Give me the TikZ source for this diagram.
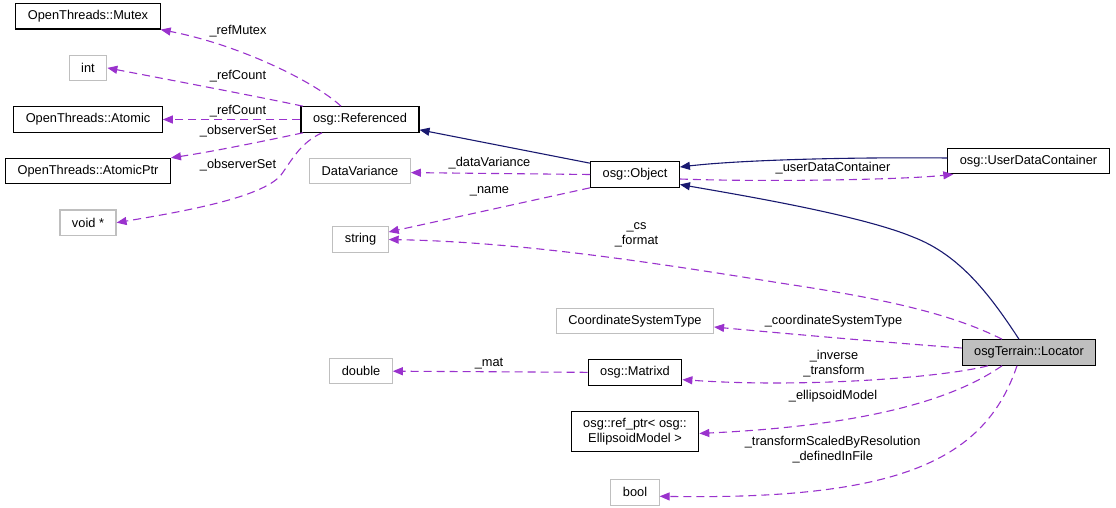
\documentclass[tikz,border=0pt]{standalone}
\usepackage{fontspec}
\setmainfont{Liberation Sans}
\usetikzlibrary{positioning, arrows.meta}

\definecolor{usecol}{RGB}{154,50,205}
\definecolor{inhcol}{RGB}{25,25,112}
\definecolor{grey75}{RGB}{191,191,191}

\begin{document}
\begin{tikzpicture}[x=1pt, y=-1pt, node distance=25pt,
    font=\fontsize{12.8}{15}\selectfont,
    classbox/.style={draw, line width=1.1pt, minimum height=25.5pt, inner xsep=12pt, inner ysep=2pt},
    typebox/.style={classbox, draw=grey75},
    mainbox/.style={classbox, fill=grey75},
    uses/.style={usecol, line width=1.1pt, dash pattern=on 8pt off 5pt, -{Triangle[length=10pt, width=8pt]}},
    inherits/.style={inhcol, line width=1.1pt, -{Triangle[length=10pt, width=8pt]}},
    lbl/.style={inner sep=0pt, align=center}]
    \useasboundingbox (0,0) rectangle (1116,508);

    \node[classbox]                      (Atomic)      at (88,119.5)   {OpenThreads::Atomic};
    \node[typebox, above=of Atomic]      (Int)                         {int};
    \node[classbox, above=of Int]        (Mutex)                       {OpenThreads::Mutex};
    \node[classbox, below=of Atomic]     (Atomic Ptr)                  {OpenThreads::AtomicPtr};
    \node[typebox, below=of Atomic Ptr]  (Void Ptr)                    {void *};

    \node[classbox]                      (Referenced)  at (360,119.5)  {osg::Referenced};
    \node[typebox, below=of Referenced]  (Data Variance)               {DataVariance};
    \node[typebox]                       (String)      at (360.5,239.5) {string};
    \node[typebox]                       (Double)      at (361,371)    {double};

    \node[classbox]                      (Object)      at (635,174.5)  {osg::Object};
    \node[typebox]                       (Coord Type)  at (635,321)    {CoordinateSystemType};
    \node[classbox, below=of Coord Type] (Matrixd)                     {osg::Matrixd};
    \node[classbox, below=of Matrixd, minimum height=40pt, align=center]
                                         (Ellipsoid)                   {osg::ref\_ptr< osg::\\EllipsoidModel >};
    \node[typebox, below=27pt of Ellipsoid] (Bool)                     {bool};

    \node[classbox]                      (User Data)   at (1028.5,161) {osg::UserDataContainer};
    \node[mainbox]                       (Locator)     at (1029,352.5) {osgTerrain::Locator};

    % members of osg::Referenced
    \draw[uses] ([xshift=-19pt]Referenced.north) .. controls (315,82) and (240,45) .. (Mutex.south east);
    \draw[uses] ([xshift=-57pt]Referenced.north) .. controls (260,97) and (160,78) .. (Int.east);
    \draw[uses] (Referenced) -- (Atomic);
    \draw[uses] ([xshift=-57pt]Referenced.south) .. controls (260,142) and (210,152) .. (Atomic Ptr.north east);
    \draw[uses] ([xshift=-38pt]Referenced.south) .. controls (300,143) and (292,160) .. (281,175)
        .. controls (262,198) and (180,212) .. (Void Ptr.east);
    \node[lbl] (lbl ref mutex)    at (238,31)    {\_refMutex};
    \node[lbl] (lbl ref count a)  at (238,76.5)  {\_refCount};
    \node[lbl] (lbl ref count b)  at (238,111.5) {\_refCount};
    \node[lbl] (lbl observer a)   at (238,131.5) {\_observerSet};
    \node[lbl] (lbl observer b)   at (238,165)   {\_observerSet};

    % osg::Object
    \draw[inherits] ([yshift=-2pt]Object.north west) -- ([yshift=3pt]Referenced.south east);
    \draw[uses] (Object.west) -- ([yshift=-1.5pt]Data Variance.east);
    \draw[uses] (Object.south west) -- ([yshift=7.5pt]String.east);
    \draw[inherits] ([yshift=3pt]User Data.west) .. controls (850,157) and (740,160) .. ([yshift=7.5pt]Object.east);
    \draw[uses] ([yshift=-4.5pt]Object.east) .. controls (760,182) and (900,180) .. ([xshift=6pt]User Data.south west);
    \node[lbl] (lbl data variance) at (489.5,163)  {\_dataVariance};
    \node[lbl] (lbl name)          at (489.5,191.5) {\_name};
    \node[lbl] (lbl user data)     at (833,168)    {\_userDataContainer};

    % osgTerrain::Locator
    \draw[inherits] ([xshift=-10pt]Locator.north) .. controls (990,295) and (960,255) .. (913,237)
        .. controls (860,215) and (740,195) .. ([yshift=-10pt]Object.east);
    \draw[uses] ([xshift=-27pt]Locator.north) .. controls (950,313) and (880,298) .. (780,283)
        .. controls (650,262) and (520,242) .. (String.east);
    \draw[uses] ([yshift=4.5pt]Locator.west) .. controls (880,342) and (780,333) .. ([yshift=-6pt]Coord Type.east);
    \draw[uses] ([xshift=-41pt]Locator.south) .. controls (940,378) and (800,388) .. ([yshift=-7pt]Matrixd.east);
    \draw[uses] ([xshift=-27pt]Locator.south) .. controls (960,395) and (880,425) .. ([yshift=-2pt]Ellipsoid.east);
    \draw[uses] ([xshift=-12pt]Locator.south) .. controls (985,460) and (900,500) .. ([yshift=-4pt]Bool.east);
    \draw[uses] (Matrixd) -- (Double);
    \node[lbl] (lbl cs)        at (636.5,235)  {\_cs\\\_format};
    \node[lbl] (lbl coord)     at (833.5,321)  {\_coordinateSystemType};
    \node[lbl] (lbl transform) at (834,364)    {\_inverse\\\_transform};
    \node[lbl] (lbl ellipsoid) at (833,396.5)  {\_ellipsoidModel};
    \node[lbl] (lbl flags)     at (832.7,449.5) {\_transformScaledByResolution\\\_definedInFile};
    \node[lbl] (lbl mat)       at (489,363.5)  {\_mat};
\end{tikzpicture}
\end{document}
